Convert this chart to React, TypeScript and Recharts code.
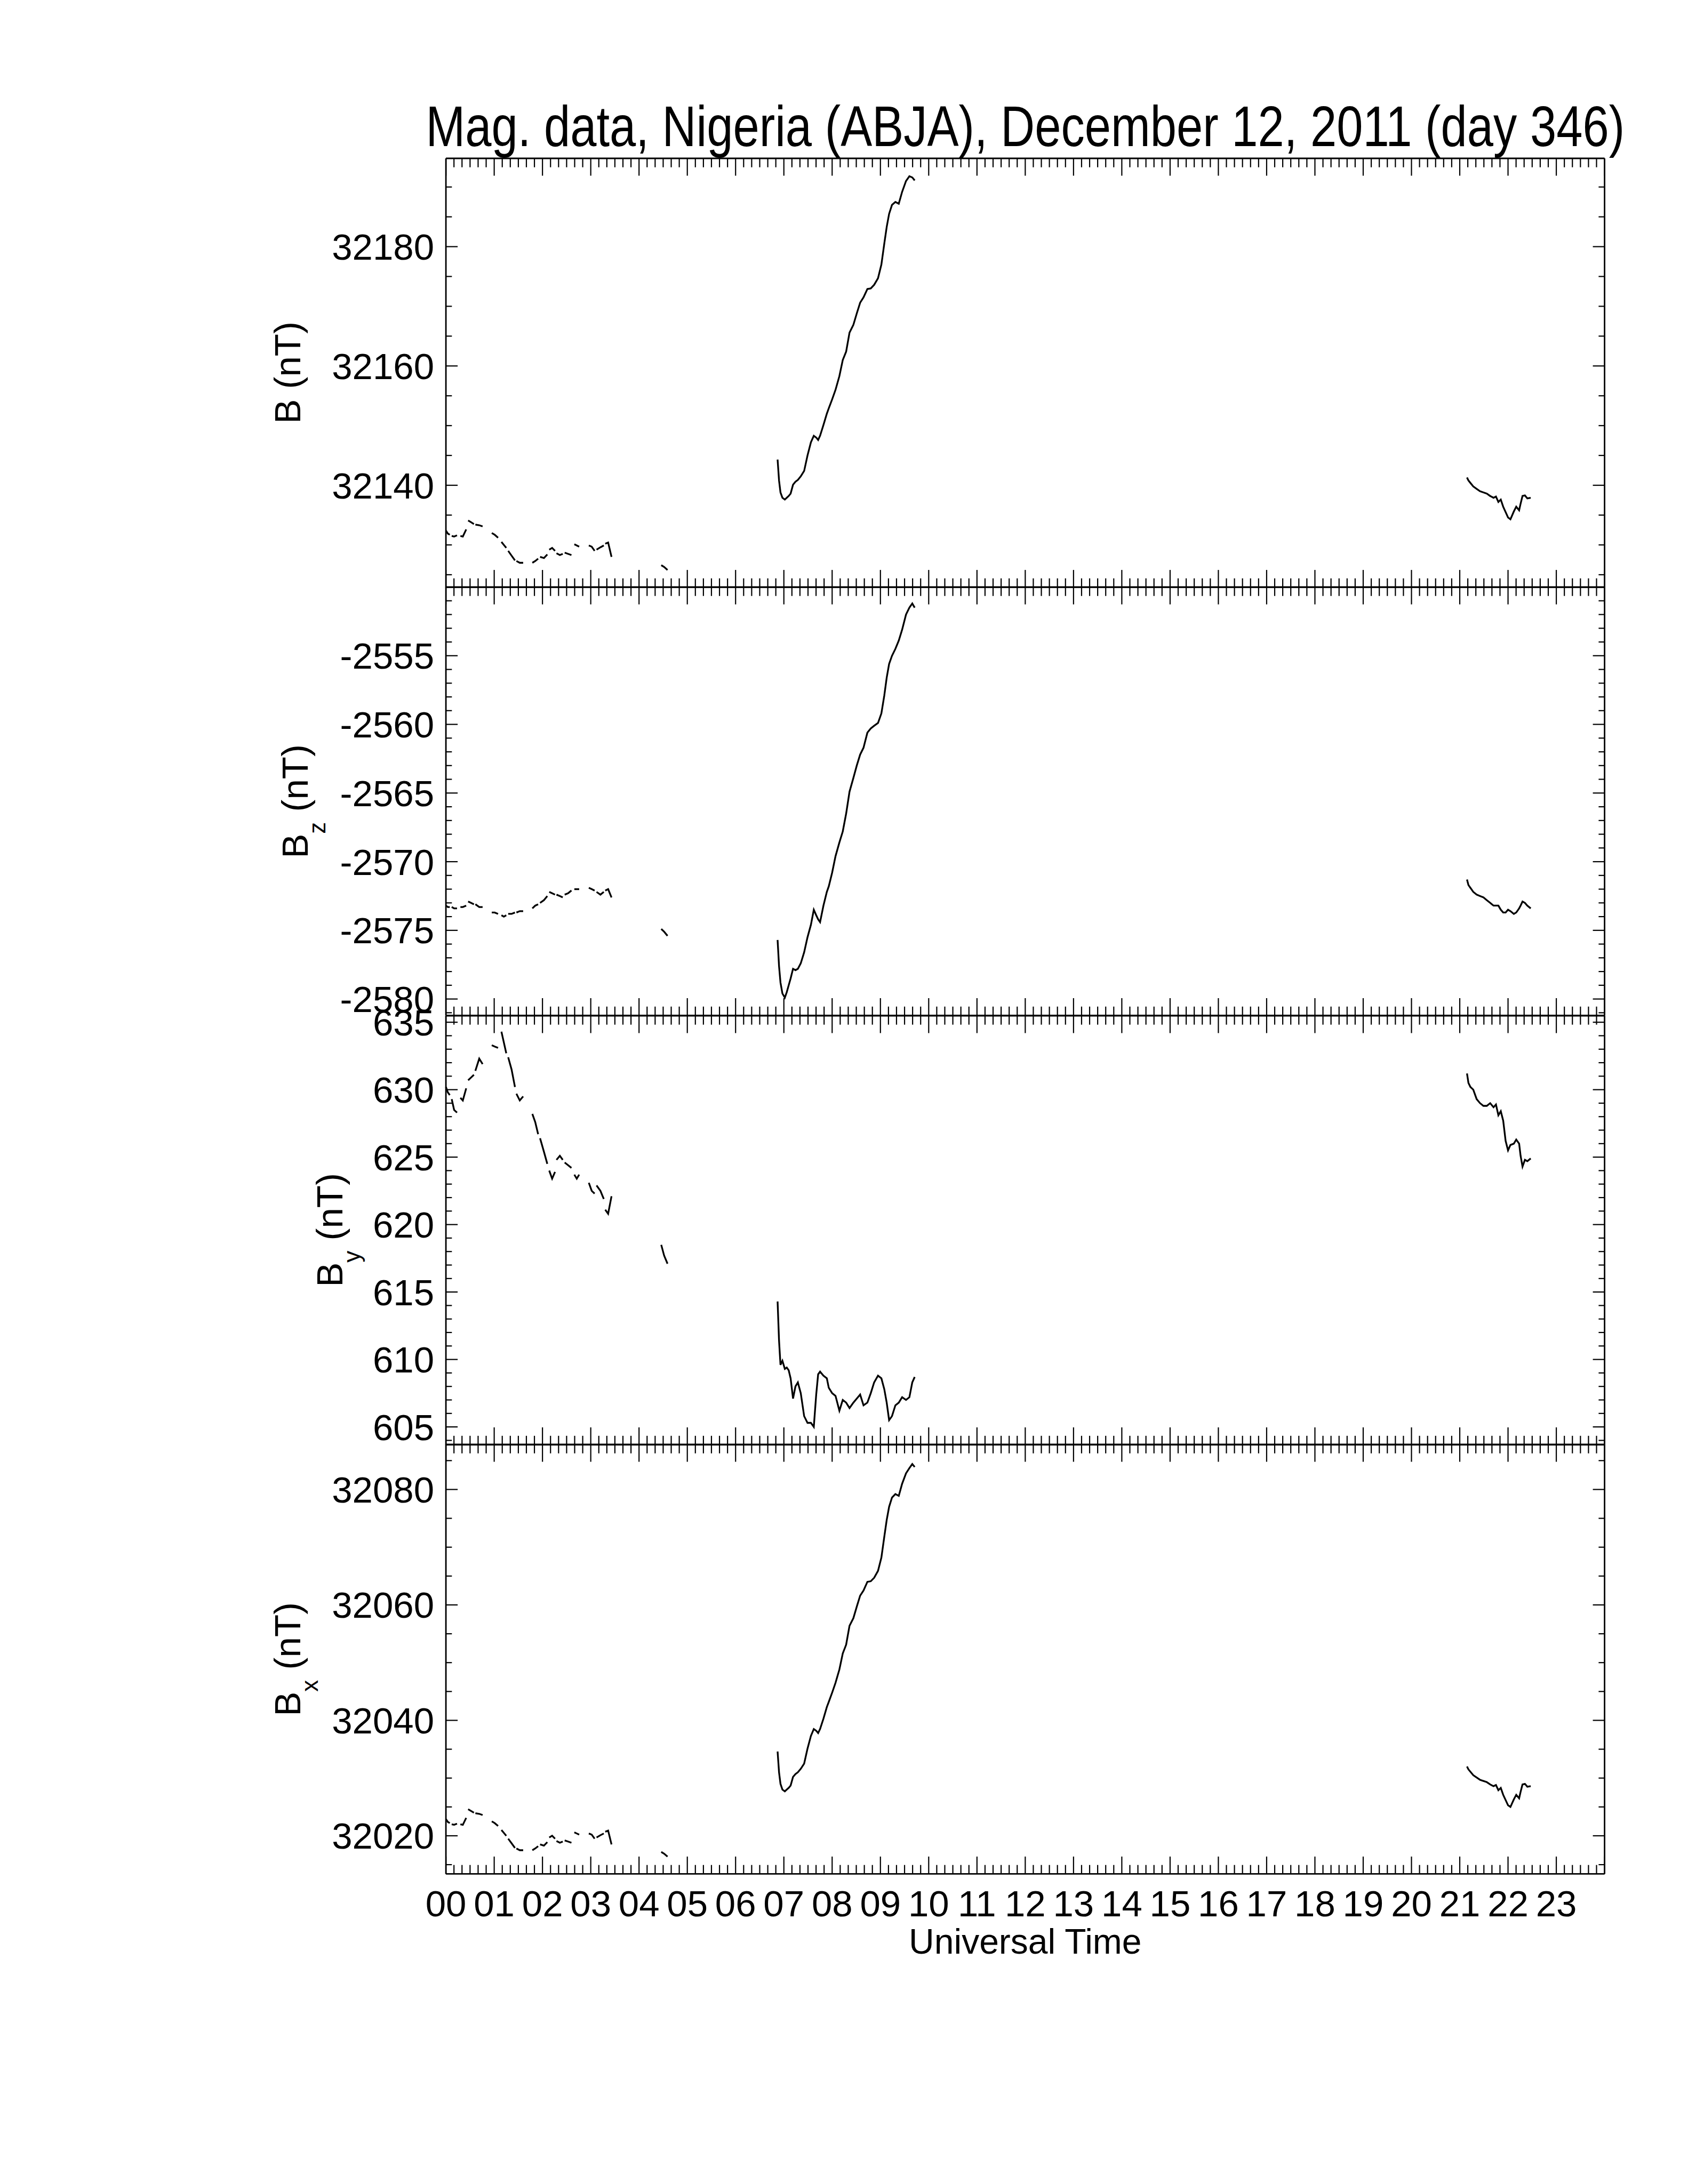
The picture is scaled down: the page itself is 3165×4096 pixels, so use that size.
import { LineChart, Line, XAxis, YAxis } from "recharts";

const _ = null;

// UT hours; rows with null values mark the data gaps
const TIME = [
  0.0, 0.04, 0.08, 0.1,
  0.12, 0.17, 0.23, 0.27,
  0.3, 0.35, 0.42, 0.44,
  0.46, 0.52, 0.58, 0.595,
  0.61, 0.69, 0.76, 0.85,
  0.95, 1.01, 1.08, 1.12,
  1.15, 1.2, 1.25, 1.27,
  1.29, 1.36, 1.43, 1.445,
  1.46, 1.53, 1.6, 1.7,
  1.79, 1.85, 1.91, 1.93,
  1.95, 2.03, 2.1, 2.12,
  2.14, 2.2, 2.26, 2.275,
  2.29, 2.36, 2.42, 2.44,
  2.46, 2.53, 2.6, 2.63,
  2.66, 2.71, 2.76, 2.85,
  2.96, 3.02, 3.08, 3.1,
  3.12, 3.2, 3.27, 3.285,
  3.3, 3.36, 3.43, 4.0,
  4.46, 4.52, 4.59, 5.7,
  6.87, 6.9, 6.93, 6.97, 7.02, 7.06, 7.1, 7.14, 7.19, 7.24, 7.29, 7.35,
  7.42, 7.49, 7.56, 7.62, 7.67, 7.71, 7.75, 7.82, 7.89, 7.93, 8.0, 8.07,
  8.15, 8.22, 8.29, 8.36, 8.44, 8.51, 8.58, 8.65, 8.73, 8.8, 8.87, 8.95,
  9.02, 9.08, 9.13, 9.18, 9.24, 9.31, 9.38, 9.45, 9.53, 9.6, 9.66, 9.71,
  15.0,
  21.15, 21.18, 21.22, 21.28, 21.35, 21.42, 21.49, 21.56, 21.63, 21.7, 21.75, 21.8,
  21.85, 21.9, 21.95, 22.0, 22.05, 22.12, 22.17, 22.23, 22.26, 22.3, 22.35, 22.4, 22.47,
];

const B_TOTAL = [
  32132.4, 32131.9, 32131.7, _,
  32131.5, 32131.4, 32131.6, _,
  32131.5, 32131.4, 32132.6, _,
  32134.1, 32133.8, 32133.5, _,
  32133.4, 32133.3, 32133.1, _,
  32132.0, 32131.7, 32131.2, _,
  32130.5, 32130.0, 32129.5, _,
  32129.0, 32128.2, 32127.4, _,
  32127.3, 32127.0, 32127.0, _,
  32127.0, 32127.3, 32127.7, _,
  32128.0, 32127.8, 32128.4, _,
  32129.2, 32129.5, 32129.0, _,
  32128.6, 32128.3, 32128.5, _,
  32128.7, 32128.5, 32128.3, _,
  32130.1, 32129.9, 32129.7, _,
  32129.9, 32129.7, 32129.0, _,
  32129.2, 32129.6, 32129.9, _,
  32130.2, 32130.4, 32128.0, _,
  32126.6, 32126.3, 32125.8, _,
  32144.3, 32140.8, 32138.8, 32137.9, 32137.6, 32137.9, 32138.2, 32138.6, 32140.1, 32140.6, 32140.9, 32141.5,
  32142.4, 32145.0, 32147.2, 32148.3, 32148.0, 32147.6, 32148.3, 32150.1, 32152.0, 32152.9, 32154.4, 32156.0,
  32158.3, 32161.0, 32162.4, 32165.6, 32166.9, 32168.8, 32170.6, 32171.5, 32172.9, 32173.0, 32173.6, 32174.7,
  32177.0, 32180.5, 32183.3, 32185.5, 32187.0, 32187.5, 32187.2, 32189.2, 32191.0, 32191.8, 32191.6, 32191.1,
  _,
  32141.3, 32140.8, 32140.4, 32139.8, 32139.4, 32139.0, 32138.8, 32138.6, 32138.2, 32137.9, 32138.1, 32137.2,
  32137.6, 32136.4, 32135.5, 32134.6, 32134.3, 32135.6, 32136.4, 32135.8, 32136.9, 32138.2, 32138.3, 32137.8, 32137.9,
];

const B_Z = [
  -2573.2, -2573.3, -2573.3, _,
  -2573.3, -2573.4, -2573.4, _,
  -2573.3, -2573.3, -2573.2, _,
  -2572.9, -2573.0, -2573.1, _,
  -2573.1, -2573.3, -2573.3, _,
  -2573.7, -2573.7, -2573.8, _,
  -2573.9, -2574.0, -2573.9, _,
  -2573.8, -2573.8, -2573.7, _,
  -2573.7, -2573.6, -2573.6, _,
  -2573.4, -2573.2, -2573.1, _,
  -2573.0, -2572.8, -2572.5, _,
  -2572.2, -2572.3, -2572.4, _,
  -2572.4, -2572.5, -2572.6, _,
  -2572.4, -2572.3, -2572.1, _,
  -2572.0, -2572.0, -2572.0, _,
  -2571.9, -2572.0, -2572.1, _,
  -2572.2, -2572.4, -2572.2, _,
  -2572.1, -2572.0, -2572.6, _,
  -2574.9, -2575.1, -2575.4, _,
  -2575.7, -2577.6, -2578.8, -2579.6, -2579.9, -2579.5, -2579.0, -2578.5, -2577.8, -2577.9, -2577.8, -2577.4,
  -2576.6, -2575.5, -2574.6, -2573.5, -2573.9, -2574.2, -2574.4, -2573.2, -2572.2, -2571.8, -2570.8, -2569.6,
  -2568.6, -2567.8, -2566.5, -2564.9, -2563.9, -2563.0, -2562.2, -2561.7, -2560.6, -2560.3, -2560.1, -2559.9,
  -2559.2, -2557.9, -2556.6, -2555.6, -2555.0, -2554.5, -2553.9, -2553.1, -2552.0, -2551.5, -2551.2, -2551.5,
  _,
  -2571.3, -2571.7, -2571.9, -2572.2, -2572.4, -2572.5, -2572.6, -2572.8, -2573.0, -2573.2, -2573.2, -2573.2,
  -2573.5, -2573.7, -2573.7, -2573.5, -2573.6, -2573.8, -2573.7, -2573.4, -2573.2, -2572.9, -2573.0, -2573.2, -2573.4,
];

const B_Y = [
  630.2, 629.8, 629.6, _,
  629.3, 628.5, 628.3, _,
  629.4, 629.2, 630.1, _,
  630.7, 630.9, 631.1, _,
  631.4, 632.3, 631.9, _,
  633.3, 633.2, 633.1, _,
  634.3, 633.5, 632.7, _,
  632.4, 631.5, 630.2, _,
  629.7, 629.2, 629.5, _,
  628.2, 627.6, 626.7, _,
  626.4, 625.4, 624.5, _,
  624.0, 623.4, 623.9, _,
  624.8, 625.1, 624.8, _,
  624.6, 624.4, 624.2, _,
  623.7, 623.4, 623.7, _,
  623.1, 622.5, 622.3, _,
  622.9, 622.5, 621.9, _,
  621.1, 620.8, 622.1, _,
  618.5, 617.7, 617.1, _,
  614.3, 611.4, 609.6, 609.9, 609.3, 609.4, 609.2, 608.6, 607.1, 608.0, 608.3, 607.5,
  605.8, 605.3, 605.3, 605.0, 607.4, 608.9, 609.1, 608.8, 608.6, 607.9, 607.5, 607.3,
  606.2, 607.0, 606.8, 606.4, 606.8, 607.1, 607.4, 606.6, 606.8, 607.5, 608.3, 608.8,
  608.6, 607.8, 606.8, 605.5, 605.8, 606.6, 606.8, 607.2, 607.0, 607.2, 608.3, 608.7,
  _,
  631.2, 630.5, 630.2, 630.0, 629.3, 629.0, 628.8, 628.8, 629.0, 628.7, 628.9, 628.1,
  628.4, 627.7, 626.2, 625.5, 625.9, 626.0, 626.3, 626.0, 625.1, 624.3, 624.8, 624.7, 624.9,
];

const B_X = [
  32022.9, 32022.4, 32022.2, _,
  32022.0, 32021.9, 32022.1, _,
  32022.0, 32021.9, 32023.1, _,
  32024.6, 32024.3, 32024.0, _,
  32023.9, 32023.8, 32023.6, _,
  32022.5, 32022.2, 32021.7, _,
  32021.0, 32020.5, 32020.0, _,
  32019.5, 32018.7, 32017.9, _,
  32017.8, 32017.5, 32017.5, _,
  32017.5, 32017.8, 32018.2, _,
  32018.5, 32018.3, 32018.9, _,
  32019.7, 32020.0, 32019.5, _,
  32019.1, 32018.8, 32019.0, _,
  32019.2, 32019.0, 32018.8, _,
  32020.6, 32020.4, 32020.2, _,
  32020.4, 32020.2, 32019.5, _,
  32019.7, 32020.1, 32020.4, _,
  32020.7, 32020.9, 32018.5, _,
  32017.2, 32016.9, 32016.4, _,
  32034.6, 32031.0, 32029.0, 32028.0, 32027.7, 32028.0, 32028.3, 32028.7, 32030.2, 32030.7, 32031.0, 32031.6,
  32032.5, 32035.1, 32037.3, 32038.5, 32038.2, 32037.8, 32038.5, 32040.3, 32042.3, 32043.2, 32044.8, 32046.5,
  32048.8, 32051.6, 32053.1, 32056.4, 32057.7, 32059.7, 32061.6, 32062.5, 32064.0, 32064.1, 32064.7, 32065.9,
  32068.2, 32071.8, 32074.7, 32077.0, 32078.6, 32079.2, 32078.9, 32081.0, 32082.8, 32083.7, 32084.4, 32083.9,
  _,
  32032.0, 32031.5, 32031.1, 32030.5, 32030.1, 32029.7, 32029.5, 32029.3, 32028.9, 32028.6, 32028.8, 32027.9,
  32028.3, 32027.1, 32026.2, 32025.3, 32025.0, 32026.3, 32027.1, 32026.5, 32027.6, 32028.9, 32029.0, 32028.5, 32028.6,
];

const HOURS = [
  "00", "01", "02", "03", "04", "05", "06", "07", "08", "09", "10", "11",
  "12", "13", "14", "15", "16", "17", "18", "19", "20", "21", "22", "23",
];
const B_LABELS = [32140, 32160, 32180];
const BZ_LABELS = [-2580, -2575, -2570, -2565, -2560, -2555];
const BY_LABELS = [605, 610, 615, 620, 625, 630, 635];
const BX_LABELS = [32020, 32040, 32060, 32080];

const TITLE = "Mag. data, Nigeria (ABJA), December 12, 2011 (day 346)";
const X_TITLE = "Universal Time";

const range = (a: number, b: number, s: number) =>
  Array.from({ length: Math.round((b - a) / s) + 1 }, (__, i) => a + i * s);

// 10-minute minor ticks, hour majors
const X_TICKS = Array.from({ length: 145 }, (__, i) => i / 6);

// layout (px)
const W = 3165;
const H = 4096;
const PLOT_L = 836.1;
const PLOT_R = 3008.6;
const PANEL_Y = [296.7, 1101.1, 1904.6, 2709.1, 3514.5];
const PAD = 40;
const FONT = "'Liberation Sans', Arial, Helvetica, sans-serif";
const FS = 69;
const AXIS = { stroke: "#000", strokeWidth: 2.8 };

function xTick(side: "top" | "bottom", labels: boolean) {
  return (p: any) => {
    const v = p.payload.value as number;
    const major = Number.isInteger(v);
    const len = major ? 32.5 : 16.7;
    const d = side === "top" ? 1 : -1;
    return (
      <g>
        <line x1={p.x} x2={p.x} y1={p.y} y2={p.y + d * len} stroke="#000" strokeWidth={2.2} />
        {labels && major && v < 24 && (
          <text x={p.x} y={p.y + 80} textAnchor="middle" fontFamily={FONT} fontSize={FS} fill="#000">
            {HOURS[v]}
          </text>
        )}
      </g>
    );
  };
}

function yTick(side: "left" | "right", majors: number[]) {
  return (p: any) => {
    const v = p.payload.value as number;
    const major = majors.includes(v);
    const len = major ? 22 : 11.2;
    const d = side === "left" ? 1 : -1;
    return (
      <g>
        <line x1={p.x} x2={p.x + d * len} y1={p.y} y2={p.y} stroke="#000" strokeWidth={2.2} />
        {side === "left" && major && (
          <text x={p.x - 22} y={p.y} dy="0.355em" textAnchor="end" fontFamily={FONT} fontSize={FS} fill="#000">
            {v}
          </text>
        )}
      </g>
    );
  };
}

interface PanelProps {
  index: number;
  values: (number | null)[];
  domain: [number, number];
  ticks: number[];
  majors: number[];
  last?: boolean;
}

function Panel({ index, values, domain, ticks, majors, last }: PanelProps) {
  const top = PANEL_Y[index];
  const h = PANEL_Y[index + 1] - top;
  const bottomH = last ? 200 : PAD;
  const rows = TIME.map((t, i) => ({ t, v: values[i] }));
  return (
    <div style={{ position: "absolute", left: 0, top: top - PAD }}>
      <LineChart width={W} height={h + PAD + bottomH} data={rows} margin={{ top: 0, right: 0, bottom: 0, left: 0 }}>
        <XAxis
          xAxisId="b"
          dataKey="t"
          type="number"
          domain={[0, 24]}
          ticks={X_TICKS}
          interval={0}
          orientation="bottom"
          height={bottomH}
          tickSize={0}
          tickMargin={0}
          tickLine={false}
          axisLine={AXIS}
          tick={xTick("bottom", !!last)}
        />
        <XAxis
          xAxisId="t"
          dataKey="t"
          type="number"
          domain={[0, 24]}
          ticks={X_TICKS}
          interval={0}
          orientation="top"
          height={PAD}
          tickSize={0}
          tickMargin={0}
          tickLine={false}
          axisLine={AXIS}
          tick={xTick("top", false)}
        />
        <YAxis
          yAxisId="l"
          type="number"
          domain={domain}
          ticks={ticks}
          interval={0}
          orientation="left"
          width={PLOT_L}
          tickSize={0}
          tickMargin={0}
          tickLine={false}
          axisLine={AXIS}
          allowDataOverflow
          tick={yTick("left", majors)}
        />
        <YAxis
          yAxisId="r"
          type="number"
          domain={domain}
          ticks={ticks}
          interval={0}
          orientation="right"
          width={W - PLOT_R}
          tickSize={0}
          tickMargin={0}
          tickLine={false}
          axisLine={AXIS}
          allowDataOverflow
          tick={yTick("right", majors)}
        />
        <Line
          xAxisId="b"
          yAxisId="l"
          dataKey="v"
          type="linear"
          stroke="#000"
          strokeWidth={3.3}
          dot={false}
          connectNulls={false}
          isAnimationActive={false}
        />
      </LineChart>
    </div>
  );
}

function YTitle({ x, index, sub }: { x: number; index: number; sub?: string }) {
  const cy = (PANEL_Y[index] + PANEL_Y[index + 1]) / 2;
  return (
    <text
      x={x}
      y={cy}
      transform={`rotate(-90 ${x} ${cy})`}
      textAnchor="middle"
      fontFamily={FONT}
      fontSize={FS}
      fill="#000"
    >
      B
      {sub && (
        <tspan dy={33} fontSize={44}>
          {sub}
        </tspan>
      )}
      <tspan dy={sub ? -33 : 0}>{" (nT)"}</tspan>
    </text>
  );
}

export default function App() {
  const midX = (PLOT_L + PLOT_R) / 2;
  return (
    <div style={{ position: "absolute", left: 0, top: 0, width: W, height: H, background: "#fff" }}>
      <Panel index={0} values={B_TOTAL} domain={[32122.9, 32194.8]} ticks={range(32125, 32190, 5)} majors={B_LABELS} />
      <Panel index={1} values={B_Z} domain={[-2581.2, -2550.0]} ticks={range(-2581, -2551, 1)} majors={BZ_LABELS} />
      <Panel index={2} values={B_Y} domain={[603.68, 635.48]} ticks={range(604, 635, 1)} majors={BY_LABELS} />
      <Panel index={3} values={B_X} domain={[32013.4, 32087.8]} ticks={range(32015, 32085, 5)} majors={BX_LABELS} last />
      <svg
        width={W}
        height={H}
        style={{ position: "absolute", left: 0, top: 0, pointerEvents: "none" }}
      >
        {/* condensed (narrow) title face */}
        <text
          transform={`translate(${midX} 274.4) scale(0.82 1)`}
          x={0}
          y={0}
          textAnchor="middle"
          fontFamily={FONT}
          fontSize={108}
          fill="#000"
        >
          {TITLE}
        </text>
        <YTitle x={562.7} index={0} />
        <YTitle x={576.6} index={1} sub="z" />
        <YTitle x={641.7} index={2} sub="y" />
        <YTitle x={562.7} index={3} sub="x" />
        <text x={midX} y={3664.2} textAnchor="middle" fontFamily={FONT} fontSize={66} fill="#000">
          {X_TITLE}
        </text>
      </svg>
    </div>
  );
}
